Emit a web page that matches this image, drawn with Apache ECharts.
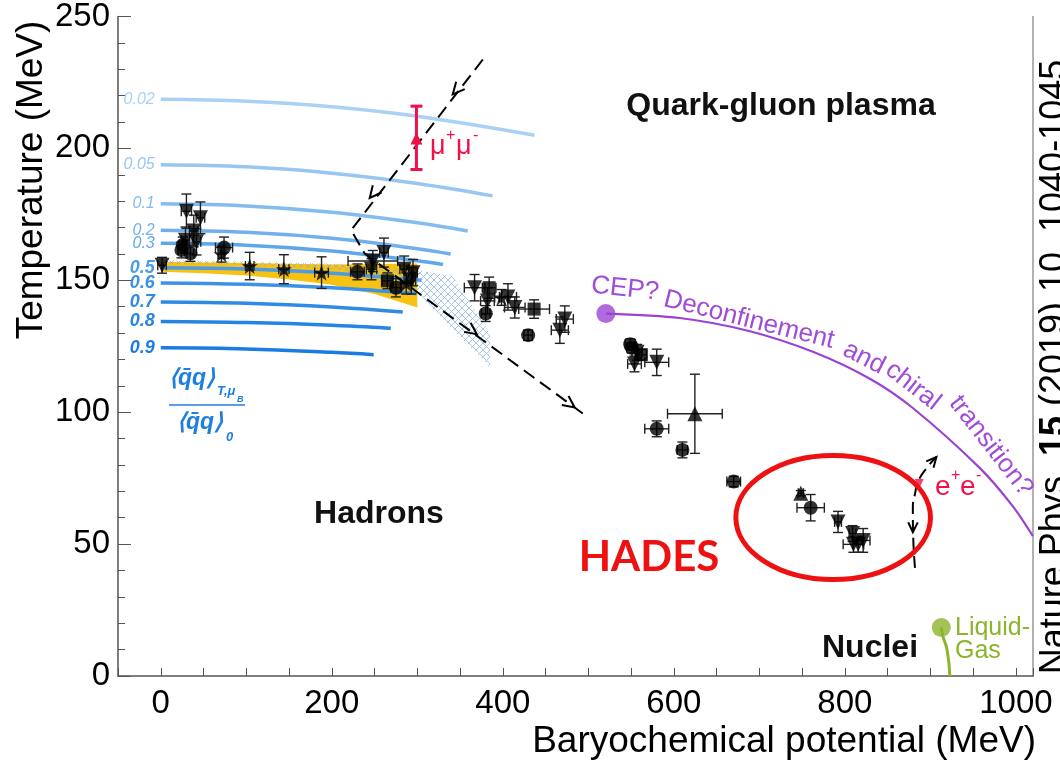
<!DOCTYPE html>
<html><head><meta charset="utf-8">
<script src="https://cdn.jsdelivr.net/npm/echarts@6/dist/echarts.min.js"></script>
<style>html,body{margin:0;padding:0;background:#fff}#c{width:1060px;height:764px}</style>
</head><body><div id="c"></div>
<script>
// ---------- tick labels ----------
const xTicks = [0, 200, 400, 600, 800, 1000];
const yTicks = [0, 50, 100, 150, 200, 250];

// ---------- chiral condensate contours  <qq>_{T,muB}/<qq>_0 ----------
const contourLabels = ['0.02', '0.05', '0.1', '0.2', '0.3', '0.5', '0.6', '0.7', '0.8', '0.9'];
const contourColors = ['#a9d1f3', '#97c7f1', '#83bcef', '#70b1ed', '#5ea7eb', '#4a9be8', '#3b92e6', '#2f8ae5', '#2584e4', '#1a7ce2'];
const c002 = [[0, 218.6], [100, 217.9], [200, 215.8], [300, 212.2], [437, 205]];
const c005 = [[0, 193.8], [100, 193.0], [200, 190.6], [300, 186.7], [388, 182]];
const c01  = [[0, 179.0], [100, 178.2], [200, 175.8], [300, 171.8], [359, 168.7]];
const c02  = [[0, 169.0], [100, 168.2], [200, 165.9], [300, 162.0], [339, 160]];
const c03  = [[0, 164.0], [100, 163.3], [200, 161.1], [300, 157.4], [330, 156]];
const c05  = [[0, 154.8], [100, 154.3], [200, 152.7], [305, 150]];
const c06  = [[0, 149.0], [100, 148.5], [200, 147.2], [299, 145]];
const c07  = [[0, 141.8], [100, 141.3], [200, 139.9], [283, 138]];
const c08  = [[0, 134.4], [100, 134.0], [200, 133.0], [269, 131.8]];
const c09  = [[0, 124.4], [100, 124.0], [200, 122.7], [249, 121.8]];
const contours = [c002, c005, c01, c02, c03, c05, c06, c07, c08, c09];

// ---------- lattice band (yellow) and hatched region ----------
const bandUpper = [[0, 157.0], [100, 156.6], [200, 156.0], [300, 156.4]];
const bandLower = [[0, 153.2], [50, 152.7], [100, 151.8], [150, 150.3], [200, 148.3], [250, 144.8], [300, 139.7]];
const hatchUpper = [[0, 157.6], [100, 157.1], [200, 156.3], [300, 153.8], [341, 151.7], [385, 130], [385, 117]];
const hatchLower = [[300, 145.3], [265, 150.8], [200, 154.3], [100, 155.9], [0, 156.3]];

// ---------- freeze-out points [muB, T, errMuB, errT] ----------
const triDown = [
  [1.5, 155.7, 5, 3], [30, 176.2, 6, 6.5], [46.4, 173.7, 5, 6], [38.6, 168.7, 5, 6], [28.9, 165.2, 5, 5], [41.8, 164.6, 5, 5],
  [248, 157.3, 29, 4], [261, 160.5, 5, 5.5], [246.4, 154.2, 6, 4], [284.6, 154.2, 5, 5], [295, 152.9, 5, 5], [293, 149.8, 5, 5],
  [367, 147.2, 12, 5], [382, 142.2, 8, 5], [406, 143.7, 10, 5], [414, 139.7, 12, 4], [472.5, 135.3, 10, 5], [466.7, 131.1, 10, 5],
  [554, 118.3, 8, 3], [557, 122.7, 6, 3], [580, 118.9, 14, 5],
  [792, 58.4, 4, 4], [809, 54, 4, 3], [810, 49.9, 12, 3], [821.4, 51.4, 8, 4.5], [815.6, 49.9, 6, 3]
];
const circles = [
  [24.2, 161.5, 4, 3], [34.7, 160.2, 4, 3], [25.7, 163.4, 4, 3], [74, 162.4, 10, 4], [230, 153.2, 8, 3], [275, 147.2, 6, 3.5],
  [380, 137.4, 5, 3], [429.6, 129.2, 5, 2], [549, 125.8, 6, 2], [551, 124.4, 6, 2],
  [580, 93.7, 14, 3], [610, 85.7, 6, 3], [670, 73.7, 8, 2], [760, 63.8, 16, 5]
];
const stars = [[71, 159.9, 4, 3], [104, 155.4, 5, 5.2], [144, 154.2, 6, 5.5], [188, 152.9, 8, 6], [287, 148.8, 6, 4], [398.5, 143.5, 8, 3]];
const squares = [[265, 149.8, 6, 3], [384, 147.2, 8, 4], [436.6, 139.1, 18, 3.5], [562, 121.8, 6, 2]];
const triUp = [[624.6, 99.4, 32, 15], [748.5, 69.3, 3, 1]];

// ---------- trajectories, transition line, annotations ----------
const trajHeavy = [[376.6, 233.7], [222.6, 169], [238.6, 160.1], [493.6, 99.5]];
const trajHeavyArrows = [[341.5, 220.5, 376.6, 233.7], [244.4, 181.2, 376.6, 233.7], [369.6, 129.6, 238.6, 160.1], [484, 101.8, 238.6, 160.1]];
const trajHades = [[882, 41], [880, 52], [879.5, 64], [882, 69], [886, 74], [896, 79], [907, 83]];
const trajHadesArrows = [[879.5, 54.5, 879.8, 62], [907, 83, 895, 78.5]];
const transitionLine = [[520.5, 137.4], [607, 135.7], [688.9, 130.7], [762.6, 122.9], [829.2, 112.7], [879.5, 101.6], [957.9, 78.8], [996.5, 64.3], [1019.9, 53]];
const cep = [520.5, 137.4];
const liquidGasLine = [[912.8, 18.4], [914.3, 15.5], [919.6, 9.8], [922.8, 0]];
const liquidGasPoint = [912.8, 18.4];
const dimuon = [299, 203, 216, 192];   // muB, T, Tmax, Tmin
const dielectron = [887, 73];
const hadesEllipse = [786.3, 60.1, 113.8, 23.5]; // center muB, T, half-width muB, half-height T

// ---------- hatch pattern ----------
const pc = document.createElement('canvas');
pc.width = 7; pc.height = 7;
const pg = pc.getContext('2d');
pg.strokeStyle = '#7fadde'; pg.lineWidth = 0.8;
pg.beginPath(); pg.moveTo(0, 0); pg.lineTo(7, 7); pg.moveTo(7, 0); pg.lineTo(0, 7); pg.stroke();

const chart = echarts.init(document.getElementById('c'), null, {renderer: 'canvas'});
const FONT = 'Liberation Sans, Arial, Helvetica, sans-serif';

function polygonSeries(points, style, z) {
  return {
    type: 'custom', coordinateSystem: 'cartesian2d', silent: true, z: z,
    data: [[points[0][0], points[0][1]]],
    renderItem: function (params, api) {
      return {type: 'polygon', shape: {points: points.map(p => api.coord(p))}, style: style};
    }
  };
}

function errorSeries(pts) {
  return {
    type: 'custom', coordinateSystem: 'cartesian2d', silent: true, z: 5, data: pts,
    renderItem: function (params, api) {
      const x = api.value(0), y = api.value(1), ex = api.value(2), ey = api.value(3);
      const l = api.coord([x - ex, y]), r = api.coord([x + ex, y]);
      const t = api.coord([x, y + ey]), b = api.coord([x, y - ey]);
      const cap = 5;
      const st = {stroke: '#222', lineWidth: 1.4};
      return {type: 'group', children: [
        {type: 'line', shape: {x1: l[0], y1: l[1], x2: r[0], y2: r[1]}, style: st},
        {type: 'line', shape: {x1: t[0], y1: t[1], x2: b[0], y2: b[1]}, style: st},
        {type: 'line', shape: {x1: l[0], y1: l[1] - cap, x2: l[0], y2: l[1] + cap}, style: st},
        {type: 'line', shape: {x1: r[0], y1: r[1] - cap, x2: r[0], y2: r[1] + cap}, style: st},
        {type: 'line', shape: {x1: t[0] - cap, y1: t[1], x2: t[0] + cap, y2: t[1]}, style: st},
        {type: 'line', shape: {x1: b[0] - cap, y1: b[1], x2: b[0] + cap, y2: b[1]}, style: st}
      ]};
    }
  };
}

function markerSeries(pts, symbol, size, rotate) {
  return {
    type: 'scatter', silent: true, z: 6, symbol: symbol, symbolSize: size, symbolRotate: rotate || 0,
    itemStyle: {color: '#000'}, data: pts.map(p => [p[0], p[1]])
  };
}

function arrowSeries(arrs, color, len) {
  return {
    type: 'custom', coordinateSystem: 'cartesian2d', silent: true, z: 7, data: arrs,
    renderItem: function (params, api) {
      const p = api.coord([api.value(0), api.value(1)]);
      const q = api.coord([api.value(2), api.value(3)]);
      const a = Math.atan2(p[1] - q[1], p[0] - q[0]);
      const w = 0.45;
      const p1 = [p[0] - len * Math.cos(a - w), p[1] - len * Math.sin(a - w)];
      const p2 = [p[0] - len * Math.cos(a + w), p[1] - len * Math.sin(a + w)];
      return {type: 'polyline', shape: {points: [p1, p, p2]}, style: {stroke: color, lineWidth: 2, fill: null}};
    }
  };
}

const series = [];
series.push(polygonSeries(bandUpper.concat(bandLower.slice().reverse()), {fill: '#f7c211'}, 1));
contours.forEach((c, i) => {
  series.push({type: 'line', data: c, smooth: 0.4, symbol: 'none', silent: true, z: 2,
    lineStyle: {color: contourColors[i], width: 3.5}});
});
series.push({
  type: 'custom', coordinateSystem: 'cartesian2d', silent: true, z: 4,
  data: contours.map((c, i) => [c[0][0], c[0][1], i]),
  renderItem: function (params, api) {
    const p = api.coord([api.value(0), api.value(1)]);
    const i = api.value(2);
    const big = i >= 5;
    return {type: 'text', x: p[0] - 6, y: p[1], style: {
      text: contourLabels[i], fill: contourColors[i],
      font: 'italic ' + (big ? 'bold 18px ' : '16px ') + FONT,
      align: 'right', verticalAlign: 'middle', textAlign: 'right', textVerticalAlign: 'middle'}};
  }
});
series.push(polygonSeries(hatchUpper.concat(hatchLower), {fill: {image: pc, repeat: 'repeat'}, opacity: 0.85}, 3));
series.push({type: 'line', data: trajHeavy, symbol: 'none', silent: true, z: 7,
  lineStyle: {color: '#000', width: 2, type: [13, 7]}});
series.push(arrowSeries(trajHeavyArrows, '#000', 13));
series.push({type: 'line', data: trajHades, symbol: 'none', smooth: 0.5, silent: true, z: 7,
  lineStyle: {color: '#000', width: 2, type: [12, 6]}});
series.push(arrowSeries(trajHadesArrows, '#000', 11));
series.push({type: 'line', data: transitionLine, smooth: 0.3, symbol: 'none', silent: true, z: 4,
  lineStyle: {color: '#9a42d2', width: 2.2}});
series.push({type: 'scatter', data: [cep], symbolSize: 19, silent: true, z: 6, itemStyle: {color: '#9b45d2'}});
series.push({type: 'line', data: liquidGasLine, smooth: 0.5, symbol: 'none', silent: true, z: 4,
  lineStyle: {color: '#8cb42c', width: 3}});
series.push({type: 'scatter', data: [liquidGasPoint], symbolSize: 19, silent: true, z: 6, itemStyle: {color: '#8cb42c'}});
[triDown, circles, stars, squares, triUp].forEach(s => series.push(errorSeries(s)));
series.push(markerSeries(triDown, 'triangle', 15, 180));
series.push(markerSeries(circles, 'circle', 14));
series.push(markerSeries(stars, 'path://M0,-10L2.35,-3.24L9.51,-3.09L3.8,1.24L5.88,8.09L0,4L-5.88,8.09L-3.8,1.24L-9.51,-3.09L-2.35,-3.24Z', 16));
series.push(markerSeries(squares, 'rect', 13));
series.push(markerSeries(triUp, 'triangle', 15));
series.push({
  type: 'custom', coordinateSystem: 'cartesian2d', silent: true, z: 8, data: [dimuon],
  renderItem: function (params, api) {
    const c = api.coord([api.value(0), api.value(1)]);
    const t = api.coord([api.value(0), api.value(2)]);
    const b = api.coord([api.value(0), api.value(3)]);
    const st = {stroke: '#f0104a', lineWidth: 3};
    return {type: 'group', children: [
      {type: 'line', shape: {x1: t[0], y1: t[1], x2: b[0], y2: b[1]}, style: st},
      {type: 'line', shape: {x1: t[0] - 6, y1: t[1], x2: t[0] + 6, y2: t[1]}, style: st},
      {type: 'line', shape: {x1: b[0] - 6, y1: b[1], x2: b[0] + 6, y2: b[1]}, style: st},
      {type: 'polygon', shape: {points: [[c[0], c[1] - 8], [c[0] - 6, c[1] + 4], [c[0] + 6, c[1] + 4]]}, style: {fill: '#f0104a'}}
    ]};
  }
});
series.push({type: 'scatter', data: [dielectron], symbol: 'triangle', symbolRotate: 180, symbolSize: 9, silent: true, z: 6,
  itemStyle: {color: '#f0104a'}});
series.push({
  type: 'custom', coordinateSystem: 'cartesian2d', silent: true, z: 9, data: [hadesEllipse],
  renderItem: function (params, api) {
    const c = api.coord([api.value(0), api.value(1)]);
    const s = api.size([api.value(2), api.value(3)]);
    return {type: 'ellipse', shape: {cx: c[0], cy: c[1], rx: s[0], ry: s[1]}, style: {stroke: '#ee1111', lineWidth: 5, fill: null}};
  }
});

function txt(text, x, y, font, fill, rot, align, extra) {
  return {type: 'text', x: x, y: y, rotation: (rot || 0) * Math.PI / 180, z: 100,
    style: Object.assign({text: text, font: font, fill: fill,
      align: align || 'center', verticalAlign: 'middle', textAlign: align || 'center', textVerticalAlign: 'middle'}, extra || {})};
}
const purple = '#a04cd8';
const pFont = '26px ' + FONT;
const blue = '#1f7fe0';

const graphics = [
  txt('Temperature (MeV)', 32, 180, '37px ' + FONT, '#000', 90),
  txt('Baryochemical potential (MeV)', 1036, 742, '37px ' + FONT, '#000', 0, 'right'),
  txt('Quark-gluon plasma', 781, 106, 'bold 32px ' + FONT, '#111'),
  txt('Hadrons', 379, 514, 'bold 32px ' + FONT, '#111'),
  txt('Nuclei', 870, 648, 'bold 32px ' + FONT, '#111'),
  txt('HADES', 649, 557, 'bold 42px Lato, ' + FONT, '#ee1111'),
  txt('\u03bc', 430, 147, '27px ' + FONT, '#f0104a', 0, 'left'),
  txt('+', 446, 136, '16px ' + FONT, '#f0104a', 0, 'left'),
  txt('\u03bc', 456, 147, '27px ' + FONT, '#f0104a', 0, 'left'),
  txt('-', 473, 136, '16px ' + FONT, '#f0104a', 0, 'left'),
  txt('e', 935, 487, '28px ' + FONT, '#f0104a', 0, 'left'),
  txt('+', 951, 476, '16px ' + FONT, '#f0104a', 0, 'left'),
  txt('e', 960, 487, '28px ' + FONT, '#f0104a', 0, 'left'),
  txt('-', 976, 476, '16px ' + FONT, '#f0104a', 0, 'left'),
  txt('Liquid-', 955, 628, '25px ' + FONT, '#8cb42c', 0, 'left'),
  txt('Gas', 955, 651, '25px ' + FONT, '#8cb42c', 0, 'left'),
  txt('CEP?', 625, 289, pFont, purple, -6),
  txt('Deconfinement', 749, 320, pFont, purple, -14),
  txt('and', 864, 358, pFont, purple, -27),
  txt('chiral', 913, 386, pFont, purple, -38),
  txt('transition?', 991, 446, pFont, purple, -52),
  txt('\u27e8q\u0304q\u27e9', 192, 379, 'italic bold 23px ' + FONT, blue),
  txt('T,\u03bc', 217, 391, 'italic bold 13px ' + FONT, blue, 0, 'left'),
  txt('B', 237, 400, 'italic bold 9px ' + FONT, blue, 0, 'left'),
  {type: 'line', z: 100, shape: {x1: 169, y1: 405, x2: 245, y2: 405}, style: {stroke: blue, lineWidth: 1.5}},
  txt('\u27e8q\u0304q\u27e9', 200, 423, 'italic bold 23px ' + FONT, blue),
  txt('0', 226, 437, 'italic bold 13px ' + FONT, blue, 0, 'left'),
  {type: 'text', x: 1055, y: 367, rotation: Math.PI / 2, z: 100, style: {
    text: 'Nature Phys. {b|15} (2019) 10, 1040-1045', font: '36px ' + FONT, fill: '#000',
    align: 'center', verticalAlign: 'middle', textAlign: 'center', textVerticalAlign: 'middle',
    rich: {b: {fontWeight: 'bold', fontSize: 36, fontFamily: FONT}}}}
];

const axisTxt = {fontSize: 33, fontFamily: FONT, color: '#000'};
chart.setOption({
  animation: false,
  backgroundColor: '#fff',
  grid: {left: 118, right: 27, top: 15, bottom: 88},
  xAxis: {
    type: 'value', min: -50, max: 1020, interval: 50,
    axisLine: {show: true, onZero: false, lineStyle: {color: '#555', width: 1.5}},
    axisTick: {inside: true, length: 8, lineStyle: {color: '#555'}},
    axisLabel: Object.assign({margin: 11, showMinLabel: true, showMaxLabel: true,
      formatter: v => (xTicks.indexOf(v) >= 0 ? String(v) : '')}, axisTxt),
    splitLine: {show: false}
  },
  yAxis: [{
    type: 'value', min: 0, max: 250, interval: 50, position: 'left',
    axisLine: {show: true, onZero: false, lineStyle: {color: '#555', width: 1.5}},
    axisTick: {inside: true, length: 13, lineStyle: {color: '#555'}},
    minorTick: {show: true, splitNumber: 5, length: 7, lineStyle: {color: '#555'}},
    axisLabel: Object.assign({margin: 8, formatter: v => (yTicks.indexOf(v) >= 0 ? String(v) : '')}, axisTxt),
    splitLine: {show: false}, minorSplitLine: {show: false}
  }, {
    type: 'value', position: 'right', min: 0, max: 250,
    axisLine: {show: true, onZero: false, lineStyle: {color: '#999', width: 1.5}},
    axisTick: {show: false}, axisLabel: {show: false}, splitLine: {show: false}
  }],
  series: series,
  graphic: graphics
});
</script></body></html>
